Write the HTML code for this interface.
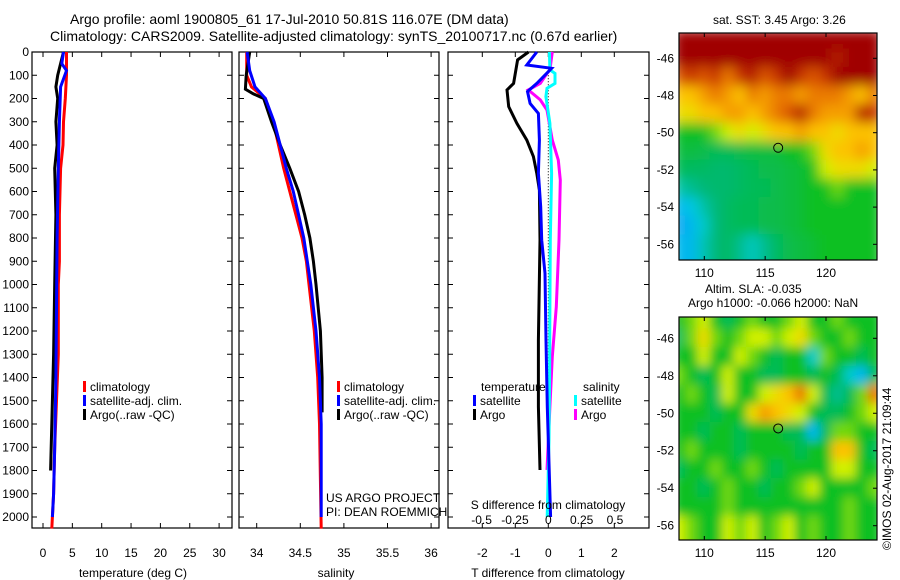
<!DOCTYPE html>
<html><head><meta charset="utf-8">
<style>
html,body{margin:0;padding:0;background:#fff;}
svg{display:block;font-family:"Liberation Sans",sans-serif;}
text{fill:#000;}
</style></head>
<body>
<svg id="chart" width="900" height="580" viewBox="0 0 900 580" xmlns="http://www.w3.org/2000/svg">
<defs>
<filter id="blurTop" filterUnits="userSpaceOnUse" x="650" y="10" width="260" height="280"><feGaussianBlur stdDeviation="6" edgeMode="duplicate"/></filter>
<filter id="blurBot" filterUnits="userSpaceOnUse" x="650" y="295" width="260" height="270"><feGaussianBlur stdDeviation="5" edgeMode="duplicate"/></filter>
<clipPath id="clipTop"><rect x="679" y="33" width="198" height="227"/></clipPath>
<clipPath id="clipBot"><rect x="679" y="317" width="198" height="223"/></clipPath>
</defs>
<text x="70" y="24" font-size="14">Argo profile: aoml 1900805_61 17-Jul-2010 50.81S 116.07E (DM data)</text>
<text x="50" y="41" font-size="14">Climatology: CARS2009. Satellite-adjusted climatology: synTS_20100717.nc (0.67d earlier)</text>
<text x="713" y="24" font-size="12">sat. SST: 3.45 Argo: 3.26</text>
<text x="705" y="293" font-size="12">Altim. SLA: -0.035</text>
<text x="688" y="307" font-size="12">Argo h1000: -0.066 h2000: NaN</text>
<text x="0" y="0" font-size="12" transform="translate(891,550) rotate(-90)">©IMOS 02-Aug-2017 21:09:44</text>
<g id="root"></g>
</svg>
<script>
// ---- data ----
const depthTicks = [0,100,200,300,400,500,600,700,800,900,1000,1100,1200,1300,1400,1500,1600,1700,1800,1900,2000];
const tempTicks = [0,5,10,15,20,25,30];
const salTicks = [34,34.5,35,35.5,36];
const salTickLabels = ["34","34.5","35","35.5","36"];
const tdiffTicks = [-2,-1,0,1,2];
const sdiffTicks = [-0.5,-0.25,0,0.25,0.5];
const sdiffTickLabels = ["-0.5","-0.25","0","0.25","0.5"];

const tClimDepth = [0,100,200,300,400,500,700,900,1000,1300,1500,1700,1900,2050];
const tClimVal   = [4.0,4.0,3.8,3.5,3.4,3.0,2.8,2.8,2.6,2.6,2.3,2.0,1.8,1.5];
const tSatDepth  = [0,50,80,150,300,500,800,1100,1400,1700,1900,2000];
const tSatVal    = [3.5,3.2,4.0,3.0,2.8,2.6,2.4,2.3,2.2,2.0,1.8,1.6];
const tArgoDepth = [0,50,100,150,200,300,400,500,700,1000,1300,1600,1800];
const tArgoVal   = [3.5,3.0,2.5,2.2,2.5,2.2,2.4,2.0,2.2,2.0,1.8,1.5,1.3];

const sClimDepth = [0,100,150,200,300,400,500,600,700,800,900,1000,1200,1400,1600,2050];
const sClimVal   = [33.885,33.885,33.94,34.10,34.19,34.25,34.31,34.38,34.45,34.52,34.57,34.60,34.66,34.70,34.72,34.74];
const sSatDepth  = [0,80,150,200,300,400,500,600,700,800,900,1000,1200,1400,1600,2000];
const sSatVal    = [33.89,33.92,33.98,34.10,34.20,34.27,34.34,34.42,34.48,34.54,34.58,34.62,34.68,34.72,34.74,34.74];
const sArgoDepth = [0,100,160,180,200,300,400,500,600,700,800,900,1000,1200,1400,1550];
const sArgoVal   = [33.92,33.88,33.87,33.96,34.08,34.17,34.27,34.38,34.48,34.55,34.61,34.65,34.68,34.73,34.75,34.75];

const dTArgoDepth = [0,34,92,135,163,235,307,379,450,522,594,809,1239,1526,1798];
const dTArgoVal   = [-0.6,-0.93,-1.0,-1.05,-1.25,-1.2,-0.95,-0.65,-0.45,-0.35,-0.27,-0.25,-0.3,-0.3,-0.25];
const dTSatDepth  = [0,56,70,92,135,170,221,264,379,522,666,809,952,1239,1526,1813,2000];
const dTSatVal    = [-0.35,-0.65,0.1,-0.05,-0.35,-0.63,-0.55,-0.3,-0.27,-0.3,-0.23,-0.2,-0.1,-0.07,-0.03,0.03,0.07];
const dSSatDepth  = [0,77,92,135,156,192,307,522,809,1096,1383,1669,2000];
const dSSatVal    = [0.008,0.012,0.05,0.05,-0.01,-0.018,0.012,0.025,0.015,0.012,0.01,0.005,-0.008];
const dSArgoDepth = [0,77,92,135,163,206,250,379,465,551,809,1096,1311,1526,1798];
const dSArgoVal   = [0.03,0.012,-0.01,-0.06,-0.15,-0.06,-0.01,0.03,0.075,0.09,0.08,0.06,0.03,0.012,-0.01];

const mapLons = [108,109,110,111,112,113,114,115,116,117,118,119,120,121,122,123,124];
const mapLats = [-45,-46,-47,-48,-49,-50,-51,-52,-53,-54,-55,-56,-57];
const sstGrid = [
[1,1,1,1,1,1,1,1,1,1,1,1,1,1,1,1,1],
[1,1,1,1,1,1,1,1,1,1,1,1,1,0.95,1,1,1],
[0.85,0.9,0.85,0.9,0.8,0.9,0.95,0.85,0.9,1,0.9,0.85,0.9,1,1,1,1],
[0.7,0.7,0.75,0.8,0.75,0.7,0.8,0.75,0.8,0.8,0.75,0.8,0.8,0.8,0.75,0.7,0.8],
[0.65,0.65,0.7,0.7,0.75,0.75,0.7,0.75,0.8,0.85,0.95,0.8,0.75,0.75,0.75,0.95,0.9],
[0.5,0.5,0.5,0.55,0.6,0.65,0.6,0.65,0.7,0.7,0.75,0.7,0.7,0.65,0.7,0.7,0.7],
[0.47,0.47,0.46,0.45,0.45,0.46,0.47,0.47,0.47,0.5,0.5,0.55,0.65,0.7,0.7,0.75,0.7],
[0.45,0.44,0.44,0.43,0.43,0.44,0.45,0.46,0.46,0.47,0.48,0.5,0.6,0.65,0.65,0.65,0.6],
[0.38,0.4,0.42,0.43,0.43,0.44,0.45,0.45,0.46,0.47,0.48,0.5,0.5,0.55,0.5,0.5,0.5],
[0.3,0.32,0.38,0.42,0.44,0.45,0.45,0.46,0.46,0.47,0.48,0.5,0.5,0.5,0.5,0.5,0.5],
[0.28,0.3,0.35,0.42,0.44,0.45,0.45,0.46,0.46,0.47,0.48,0.5,0.5,0.5,0.5,0.5,0.5],
[0.3,0.3,0.37,0.42,0.44,0.4,0.36,0.4,0.44,0.46,0.47,0.48,0.5,0.5,0.5,0.5,0.5],
[0.3,0.3,0.37,0.42,0.44,0.4,0.36,0.4,0.44,0.46,0.47,0.48,0.5,0.5,0.5,0.5,0.5]];
const slaGrid = [
[0.5,0.55,0.6,0.5,0.45,0.5,0.55,0.5,0.5,0.55,0.6,0.5,0.5,0.55,0.5,0.5,0.5],
[0.45,0.55,0.65,0.55,0.5,0.55,0.6,0.6,0.55,0.6,0.65,0.55,0.5,0.5,0.55,0.5,0.5],
[0.5,0.5,0.6,0.5,0.5,0.6,0.55,0.5,0.45,0.5,0.5,0.35,0.55,0.5,0.5,0.45,0.5],
[0.55,0.5,0.45,0.5,0.6,0.5,0.5,0.45,0.45,0.5,0.5,0.45,0.5,0.45,0.35,0.3,0.45],
[0.5,0.55,0.5,0.45,0.6,0.5,0.5,0.6,0.65,0.7,0.8,0.6,0.45,0.4,0.45,0.55,0.8],
[0.5,0.5,0.5,0.45,0.5,0.5,0.65,0.75,0.7,0.65,0.6,0.5,0.45,0.45,0.5,0.55,0.6],
[0.5,0.5,0.45,0.5,0.5,0.45,0.5,0.5,0.5,0.45,0.45,0.3,0.45,0.55,0.55,0.5,0.5],
[0.5,0.55,0.5,0.5,0.5,0.45,0.5,0.5,0.5,0.5,0.45,0.5,0.5,0.7,0.7,0.5,0.45],
[0.45,0.5,0.5,0.55,0.5,0.5,0.55,0.5,0.45,0.5,0.5,0.5,0.5,0.6,0.6,0.5,0.5],
[0.5,0.5,0.45,0.5,0.55,0.5,0.5,0.45,0.5,0.5,0.55,0.6,0.5,0.5,0.5,0.5,0.55],
[0.5,0.5,0.5,0.5,0.55,0.5,0.5,0.5,0.5,0.5,0.5,0.5,0.5,0.5,0.55,0.5,0.5],
[0.6,0.55,0.5,0.5,0.6,0.55,0.6,0.5,0.55,0.6,0.5,0.55,0.5,0.5,0.55,0.5,0.5],
[0.6,0.55,0.5,0.5,0.6,0.55,0.6,0.5,0.55,0.6,0.5,0.55,0.5,0.5,0.55,0.5,0.5]];
const lonTicks = [110,115,120];
const sstLatTicks = [-46,-48,-50,-52,-54,-56];
const slaLatTicks = [-46,-48,-50,-52,-54,-56];
const argoLon = 116.07, argoLat = -50.81;

// ---- helpers ----
const NS = "http://www.w3.org/2000/svg";
const root = document.getElementById('root');
function mk(tag, attrs, parent){
  const e = document.createElementNS(NS, tag);
  for (const k in attrs) e.setAttribute(k, attrs[k]);
  (parent||root).appendChild(e);
  return e;
}
const yDepth = d => 52 + d * 0.2325;
const xTemp = t => 43 + t * 5.87;
const xSal = s => 256.7 + (s - 34) * 87.2;
const xTd = t => 548.3 + t * 33;
const xSd = s => 548.3 + s * 133.4;
const PT = 52, PB = 528;

function panel(name, x0, x1){
  const r = mk('rect', {x:x0, y:PT, width:x1-x0, height:PB-PT, fill:'#fff', stroke:'#000', 'stroke-width':1.2});
  
  
  depthTicks.forEach(d => {
    const y = yDepth(d);
    const t1 = mk('line', {x1:x0, x2:x0+5, y1:y, y2:y, stroke:'#000'});
    
    
    const t2 = mk('line', {x1:x1-5, x2:x1, y1:y, y2:y, stroke:'#000'});
    
    
  });
}
function xticks(vals, labels, fx, x0, x1, ytext, name){
  vals.forEach((v,i) => {
    const x = fx(v);
    const a = mk('line', {x1:x, x2:x, y1:PB, y2:PB-5, stroke:'#000'});
    
    
    const b = mk('line', {x1:x, x2:x, y1:PT, y2:PT+5, stroke:'#000'});
    
    
    if (ytext) {
      const t = mk('text', {x:x, y:ytext, 'font-size':12, 'text-anchor':'middle'});
      t.textContent = labels ? labels[i] : String(v);
      
      
    }
  });
}
function profile(name, depths, vals, fx, color){
  const pts = depths.map((d,i) => fx(vals[i]).toFixed(1) + ',' + yDepth(d).toFixed(1)).join(' ');
  const p = mk('polyline', {points:pts, fill:'none', stroke:color, 'stroke-width':3, 'stroke-linejoin':'miter'});
  
  
}
function label(name, x, y, txt, size, anchor){
  const t = mk('text', {x:x, y:y, 'font-size':size||12, 'text-anchor':anchor||'start'});
  t.textContent = txt;
  
  
}
function legendEntry(name, x, y, color, txt){
  const r = mk('rect', {x:x, y:y-10, width:3, height:11, fill:color});
  
  
  label(name, x+7, y, txt, 12);
}

// ---- panel 1: temperature ----
panel('temperature-panel', 32, 232);
depthTicks.forEach(d => label('depth-label', 29, yDepth(d)+4, String(d), 12, 'end'));
xticks(tempTicks, null, xTemp, 32, 232, 557, 'temperature');
label('temperature-axis-title', 133, 577, 'temperature (deg C)', 12, 'middle');
profile('temp-climatology-line', tClimDepth, tClimVal, xTemp, '#ff0000');
profile('temp-argo-line', tArgoDepth, tArgoVal, xTemp, '#000000');
profile('temp-satellite-line', tSatDepth, tSatVal, xTemp, '#0000ff');
legendEntry('legend-climatology', 83, 391, '#ff0000', 'climatology');
legendEntry('legend-satellite-adj', 83, 405, '#0000ff', 'satellite-adj. clim.');
legendEntry('legend-argo', 83, 419, '#000000', 'Argo(..raw -QC)');

// ---- panel 2: salinity ----
panel('salinity-panel', 239, 439);
xticks(salTicks, salTickLabels, xSal, 239, 439, 557, 'salinity');
label('salinity-axis-title', 336, 577, 'salinity', 12, 'middle');
profile('sal-climatology-line', sClimDepth, sClimVal, xSal, '#ff0000');
profile('sal-argo-line', sArgoDepth, sArgoVal, xSal, '#000000');
profile('sal-satellite-line', sSatDepth, sSatVal, xSal, '#0000ff');
legendEntry('legend-sal-climatology', 337, 391, '#ff0000', 'climatology');
legendEntry('legend-sal-satellite-adj', 337, 405, '#0000ff', 'satellite-adj. clim.');
legendEntry('legend-sal-argo', 337, 419, '#000000', 'Argo(..raw -QC)');
label('us-argo-project', 326, 502, 'US ARGO PROJECT', 12);
label('pi-name', 326, 516, 'PI: DEAN ROEMMICH', 12);

// ---- panel 3: differences ----
panel('difference-panel', 448, 649);
xticks(tdiffTicks, null, xTd, 448, 649, 557, 'tdiff');
label('tdiff-axis-title', 548, 577, 'T difference from climatology', 12, 'middle');
const zl = mk('line', {x1:xTd(0), x2:xTd(0), y1:yDepth(100), y2:yDepth(2000), stroke:'#000', 'stroke-dasharray':'1,2', 'stroke-width':1});


profile('tdiff-argo-line', dTArgoDepth, dTArgoVal, xTd, '#000000');
profile('sdiff-argo-line', dSArgoDepth, dSArgoVal, xSd, '#ff00ff');
profile('sdiff-satellite-line', dSSatDepth, dSSatVal, xSd, '#00ffff');
profile('tdiff-satellite-line', dTSatDepth, dTSatVal, xTd, '#0000ff');
label('legend-temperature-heading', 481, 391, 'temperature', 12);
legendEntry('legend-tdiff-satellite', 473, 405, '#0000ff', 'satellite');
legendEntry('legend-tdiff-argo', 473, 419, '#000000', 'Argo');
label('legend-salinity-heading', 583, 391, 'salinity', 12);
legendEntry('legend-sdiff-satellite', 574, 405, '#00ffff', 'satellite');
legendEntry('legend-sdiff-argo', 574, 419, '#ff00ff', 'Argo');
label('sdiff-axis-title', 548, 509, 'S difference from climatology', 12, 'middle');
sdiffTicks.forEach((v,i) => label('sdiff-tick-label', xSd(v), 524, sdiffTickLabels[i], 12, 'middle'));

// ---- maps ----
const stops = [[0.25,[16,144,255]],[0.33,[0,208,224]],[0.42,[0,184,120]],[0.5,[16,192,32]],[0.6,[208,240,0]],[0.68,[255,208,0]],[0.78,[240,136,0]],[0.88,[208,64,0]],[1,[160,0,0]]];
function cmap(v){
  if (v <= stops[0][0]) return 'rgb(' + stops[0][1].join(',') + ')';
  for (let i=1;i<stops.length;i++){
    if (v <= stops[i][0]) {
      const a = stops[i-1], b = stops[i], f = (v-a[0])/(b[0]-a[0]);
      const c = a[1].map((x,k) => Math.round(x + (b[1][k]-x)*f));
      return 'rgb(' + c.join(',') + ')';
    }
  }
  return 'rgb(160,0,0)';
}
function drawMap(name, grid, latTicks, x0, y0, w, h, lat46y, lat56y, clip, blurId){
  const xLon = lon => 704.3 + (lon - 110) * 12.17;
  const yLat = lat => lat46y + (-46 - lat) * (lat56y - lat46y) / 10;
  const g = mk('g', {'clip-path':'url(#' + clip + ')'});
  
  
  const gb = mk('g', {filter:'url(#' + blurId + ')'}, g);
  grid.forEach((row, r) => row.forEach((v, c) => {
    const cx = xLon(mapLons[c]), cy = yLat(mapLats[r]);
    const cell = mk('rect', {x:cx-6.8, y:cy-10, width:13.6, height:20, fill:cmap(v)}, gb);
    
    
  }));
  const fr = mk('rect', {x:x0, y:y0, width:w, height:h, fill:'none', stroke:'#000', 'stroke-width':1.2});
  
  
  lonTicks.forEach(lon => {
    const x = xLon(lon);
    const t = mk('line', {x1:x, x2:x, y1:y0+h, y2:y0+h-4, stroke:'#000'});
    
    
    const t2 = mk('line', {x1:x, x2:x, y1:y0, y2:y0+4, stroke:'#000'});
    
    
    label(name + '-lon-label', x, y0+h+17, String(lon), 12, 'middle');
  });
  latTicks.forEach(lat => {
    const y = yLat(lat);
    const t = mk('line', {x1:x0+w-4, x2:x0+w, y1:y, y2:y, stroke:'#000'});
    
    
    label(name + '-lat-label', x0-5, y+4, String(lat), 12, 'end');
  });
  const c = mk('circle', {cx:xLon(argoLon), cy:yLat(argoLat), r:4.5, fill:'none', stroke:'#000', 'stroke-width':1});
  
  
}
drawMap('sst-map', sstGrid, sstLatTicks, 679, 33, 198, 227, 58.3, 244.3, 'clipTop', 'blurTop');
drawMap('sla-map', slaGrid, slaLatTicks, 679, 317, 198, 223, 338.3, 525.7, 'clipBot', 'blurBot');
</script>
</body></html>
